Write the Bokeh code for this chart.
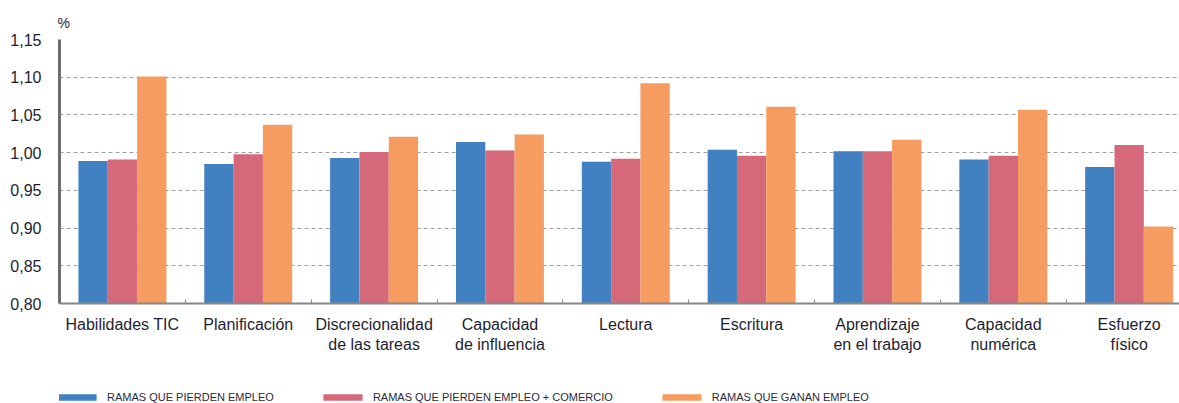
from bokeh.plotting import figure
from bokeh.layouts import column
from bokeh.models import Range1d, FixedTicker, Legend, LegendItem, ColumnDataSource
from bokeh.embed import file_html
from bokeh.resources import INLINE

categories = ["Habilidades TIC", "Planificación", "Discrecionalidad\nde las tareas",
              "Capacidad\nde influencia", "Lectura", "Escritura",
              "Aprendizaje\nen el trabajo", "Capacidad\nnumérica", "Esfuerzo\nfísico"]
series_names = ["RAMAS QUE PIERDEN EMPLEO", "RAMAS QUE PIERDEN EMPLEO + COMERCIO",
                "RAMAS QUE GANAN EMPLEO"]
pierden = [0.989, 0.985, 0.993, 1.014, 0.988, 1.004, 1.002, 0.991, 0.981]
pierden_comercio = [0.991, 0.998, 1.001, 1.003, 0.992, 0.996, 1.002, 0.996, 1.010]
ganan = [1.101, 1.037, 1.021, 1.024, 1.092, 1.061, 1.017, 1.057, 0.902]
y_ticks = [0.80, 0.85, 0.90, 0.95, 1.00, 1.05, 1.10, 1.15]
y_tick_labels = ["0,80", "0,85", "0,90", "0,95", "1,00", "1,05", "1,10", "1,15"]

colors = ["#4180C1", "#D56979", "#F79C61"]
series = [pierden, pierden_comercio, ganan]

n = len(categories)
centers = [i + 0.5 for i in range(n)]
bw = 0.233
offsets = [-bw, 0.0, bw]

p = figure(width=1179, height=360, output_backend="svg", toolbar_location=None,
           x_range=Range1d(0, 8.9), y_range=Range1d(0.80, 1.15),
           min_border_left=59, min_border_right=0, min_border_top=39, min_border_bottom=57)
p.outline_line_color = None
p.background_fill_color = "white"
p.border_fill_color = "white"

sources = []
for vals, col, off in zip(series, colors, offsets):
    src = ColumnDataSource(dict(x=[c + off for c in centers], top=vals))
    sources.append(src)
    p.vbar(x="x", top="top", bottom=0.80, width=bw, source=src,
           fill_color=col, line_color=None)

# axes
p.xaxis.ticker = FixedTicker(ticks=centers, minor_ticks=list(range(1, n)))
p.xaxis.major_label_overrides = {c: lab for c, lab in zip(centers, categories)}
p.xaxis.major_tick_in = 0
p.xaxis.major_tick_out = 0
p.xaxis.minor_tick_in = 4
p.xaxis.minor_tick_out = 0
p.xaxis.minor_tick_line_color = "#888888"
p.xaxis.axis_line_color = "#888888"
p.xaxis.axis_line_width = 2
p.xaxis.major_label_text_font = "Liberation Sans"
p.xaxis.major_label_text_font_size = "16px"
p.xaxis.major_label_text_color = "#1e1e30"
p.xaxis.major_label_standoff = 12

p.yaxis.ticker = FixedTicker(ticks=y_ticks)
p.yaxis.major_label_overrides = {t: lab for t, lab in zip(y_ticks, y_tick_labels)}
p.yaxis.major_tick_line_color = None
p.yaxis.minor_tick_line_color = None
p.yaxis.axis_line_color = "#6e6e6e"
p.yaxis.axis_line_width = 3
p.yaxis.major_label_text_font = "Liberation Sans"
p.yaxis.major_label_text_font_size = "16px"
p.yaxis.major_label_text_color = "#1e1e30"
p.yaxis.major_label_standoff = 12

p.xgrid.grid_line_color = None
p.ygrid.ticker = FixedTicker(ticks=y_ticks[1:])
p.ygrid.grid_line_color = "#a0a0a0"
p.ygrid.grid_line_dash = "4 3"
p.ygrid.grid_line_width = 1

p.title.text = "%"
p.title.align = "left"
p.title.text_font = "Liberation Sans"
p.title.text_font_size = "14px"
p.title.text_font_style = "normal"
p.title.text_color = "#1e1e30"
p.title.standoff = 17
p.title.offset = -2

# legend strip below the chart (hidden proxy renderers share the series data)
p2 = figure(width=1179, height=43, output_backend="svg", toolbar_location=None,
            x_axis_type=None, y_axis_type=None,
            min_border_left=0, min_border_right=0, min_border_top=0, min_border_bottom=0)
p2.outline_line_color = None
p2.background_fill_color = "white"
p2.border_fill_color = "white"
p2.xgrid.grid_line_color = None
p2.ygrid.grid_line_color = None
legend_renderers = []
for src, col in zip(sources, colors):
    r = p2.vbar(x="x", top="top", bottom=0.80, width=bw, source=src,
                fill_color=col, line_color=None, visible=False)
    legend_renderers.append(r)

legend = Legend(items=[LegendItem(label=s, renderers=[r])
                       for s, r in zip(series_names, legend_renderers)],
                orientation="horizontal", location=(-7, 0))
legend.glyph_width = 49
legend.glyph_height = 8
legend.label_standoff = 6
legend.spacing = 44
legend.padding = 0
legend.margin = 0
legend.border_line_color = None
legend.background_fill_alpha = 0
legend.inactive_fill_alpha = 0
legend.click_policy = "none"
legend.label_text_font = "Liberation Sans"
legend.label_text_font_size = "11px"
legend.label_text_color = "#2a2a3a"
legend.label_height = 10
p2.add_layout(legend)

layout = column(p, p2, spacing=0)
open("out.html", "w").write(file_html(layout, INLINE))
